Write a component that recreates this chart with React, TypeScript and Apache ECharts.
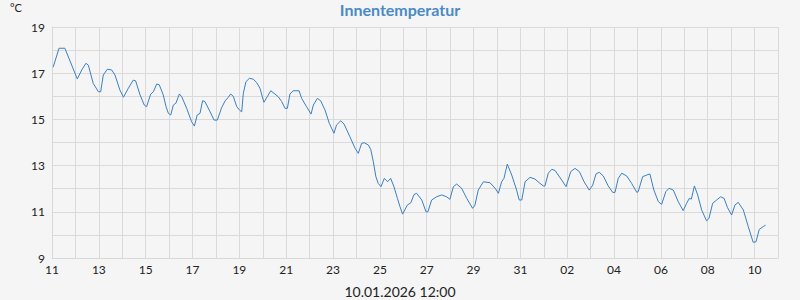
import React, { useEffect, useRef } from "react";
import * as echarts from "echarts";

const START_UTC = Date.UTC(2025, 11, 11, 0, 0);
const DAY_MS = 86400000;
const RANGE_DAYS = 31;

const Y_MIN = 9;
const Y_MAX = 19;

// time of each reading, in days after 11.12.2025 00:00
const DAY_OFFSETS = [
  0.05, 0.3, 0.55, 1.08, 1.27, 1.45, 1.55, 1.76, 1.98, 2.08, 2.19, 2.36, 2.55, 2.69, 2.9, 3.05,
  3.26, 3.47, 3.57, 3.76, 3.94, 4.04, 4.21, 4.33, 4.47, 4.58, 4.75, 4.87, 4.97, 5.07, 5.18, 5.29,
  5.44, 5.54, 5.75, 5.96, 6.08, 6.2, 6.32, 6.43, 6.53, 6.75, 6.92, 7.06, 7.24, 7.39, 7.53, 7.63,
  7.74, 7.89, 8.03, 8.1, 8.17, 8.28, 8.43, 8.6, 8.74, 8.88, 8.98, 9.05, 9.19, 9.34, 9.52, 9.66,
  9.81, 9.95, 10.05, 10.16, 10.3, 10.55, 10.66, 10.87, 11.06, 11.16, 11.33, 11.47, 11.66, 11.84,
  12.04, 12.15, 12.33, 12.47, 12.72, 12.94, 13.08, 13.22, 13.33, 13.51, 13.61, 13.72, 13.83,
  13.93, 14.05, 14.19, 14.33, 14.46, 14.6, 14.75, 14.86, 14.97, 15.17, 15.32, 15.46, 15.57,
  15.79, 15.97, 16.05, 16.21, 16.42, 16.64, 16.85, 16.99, 17.14, 17.28, 17.49, 17.71, 17.96,
  18.06, 18.2, 18.42, 18.7, 18.92, 19.06, 19.2, 19.3, 19.44, 19.63, 19.84, 19.95, 20.06, 20.2,
  20.41, 20.62, 20.8, 20.98, 21.05, 21.19, 21.34, 21.48, 21.76, 21.95, 22.15, 22.33, 22.52,
  22.72, 22.94, 23.09, 23.23, 23.37, 23.54, 23.75, 23.94, 24.04, 24.18, 24.33, 24.54, 24.75,
  24.97, 25.03, 25.22, 25.39, 25.53, 25.7, 25.89, 26.03, 26.21, 26.35, 26.53, 26.74, 26.95,
  27.1, 27.21, 27.3, 27.43, 27.57, 27.74, 27.95, 28.05, 28.21, 28.38, 28.55, 28.7, 28.84,
  29.02, 29.16, 29.3, 29.52, 29.73, 29.94, 30.06, 30.2, 30.37, 30.47,
];

// indoor temperature, °C
const TEMPS = [
  17.26, 18.08, 18.08, 16.75, 17.14, 17.43, 17.35, 16.56, 16.2, 16.2, 16.92, 17.17, 17.14, 16.92,
  16.27, 15.96, 16.35, 16.7, 16.67, 16.06, 15.62, 15.55, 16.09, 16.2, 16.53, 16.5, 16.06, 15.55,
  15.26, 15.19, 15.62, 15.7, 16.1, 15.98, 15.48, 14.9, 14.71, 15.19, 15.26, 15.81, 15.77, 15.33,
  14.97, 14.97, 15.5, 15.8, 15.96, 16.1, 16.0, 15.55, 15.38, 15.33, 16.13, 16.63, 16.78, 16.74,
  16.59, 16.35, 15.98, 15.74, 15.98, 16.24, 16.1, 15.98, 15.77, 15.48, 15.48, 16.1, 16.24,
  16.24, 15.91, 15.55, 15.23, 15.62, 15.91, 15.81, 15.4, 14.83, 14.4, 14.76, 14.94, 14.8, 14.25,
  13.75, 13.53, 13.96, 13.99, 13.89, 13.7, 13.17, 12.52, 12.23, 12.09, 12.45, 12.3, 12.45, 12.09,
  11.58, 11.22, 10.9, 11.29, 11.39, 11.75, 11.8, 11.51, 11.0, 11.0, 11.51, 11.65, 11.73, 11.65,
  11.54, 12.09, 12.2, 12.02, 11.58, 11.15, 11.29, 11.94, 12.3, 12.26, 12.02, 11.8, 12.3, 12.45,
  13.06, 12.59, 11.94, 11.51, 11.51, 12.3, 12.49, 12.42, 12.26, 12.12, 12.12, 12.67, 12.84,
  12.79, 12.38, 12.09, 12.74, 12.88, 12.74, 12.3, 11.94, 12.16, 12.64, 12.71, 12.55, 12.12,
  11.84, 11.84, 12.45, 12.67, 12.55, 12.23, 11.84, 11.87, 12.52, 12.59, 12.64, 11.94, 11.44,
  11.32, 11.87, 12.02, 11.94, 11.44, 11.05, 11.37, 11.58, 11.55, 12.12, 11.73, 11.08, 10.61,
  10.71, 11.37, 11.51, 11.65, 11.58, 11.19, 10.86, 11.29, 11.41, 11.08, 10.36, 9.68, 9.7, 10.24,
  10.36, 10.42,
];

const TITLE = "Innentemperatur";
const UNIT = "°C";
const FOOTER = "10.01.2026 12:00";

const FONT = "Lato, 'DejaVu Sans', sans-serif";

export default function App() {
  const ref = useRef<HTMLDivElement>(null);

  useEffect(() => {
    if (!ref.current) return;
    const chart = echarts.init(ref.current, null, { renderer: "svg" });
    const data = DAY_OFFSETS.map((d, i) => [START_UTC + d * DAY_MS, TEMPS[i]]);
    chart.setOption({
      animation: false,
      backgroundColor: "#f5f5f5",
      textStyle: { fontFamily: FONT },
      graphic: [
        {
          type: "text",
          style: {
            x: 400,
            y: 9,
            text: TITLE,
            align: "center",
            verticalAlign: "middle",
            fill: "#4a8ac4",
            font: `bold 16px ${FONT}`,
          },
        },
        {
          type: "text",
          style: {
            x: 400,
            y: 291,
            text: FOOTER,
            align: "center",
            verticalAlign: "middle",
            fill: "#222",
            font: `14px ${FONT}`,
          },
        },
        {
          type: "text",
          style: {
            x: 10,
            y: 7,
            text: UNIT,
            align: "left",
            verticalAlign: "middle",
            fill: "#222",
            font: `11px ${FONT}`,
          },
        },
      ],
      grid: { left: 52, right: 22, top: 27, bottom: 42, containLabel: false },
      xAxis: {
        type: "value",
        min: START_UTC,
        max: START_UTC + RANGE_DAYS * DAY_MS,
        interval: DAY_MS,
        axisLine: { show: true, lineStyle: { color: "#d8d8d8", width: 1 } },
        axisTick: { show: false },
        splitLine: { show: true, lineStyle: { color: "#dadada", width: 1 } },
        axisLabel: {
          color: "#222",
          fontSize: 12,
          fontFamily: FONT,
          margin: 5,
          showMaxLabel: false,
          formatter: (v: number) => {
            const off = Math.round((v - START_UTC) / DAY_MS);
            if (off % 2 !== 0) return "";
            const dt = new Date(v);
            return String(dt.getUTCDate()).padStart(2, "0");
          },
        },
      },
      yAxis: {
        type: "value",
        min: Y_MIN,
        max: Y_MAX,
        interval: 1,
        axisLine: { show: true, lineStyle: { color: "#d8d8d8", width: 1 } },
        axisTick: { show: false },
        splitLine: { show: true, lineStyle: { color: "#dadada", width: 1 } },
        axisLabel: {
          color: "#222",
          fontSize: 12,
          fontFamily: FONT,
          margin: 7,
          formatter: (v: number) => (Math.round(v) % 2 === 1 ? String(v) : ""),
        },
      },
      series: [
        {
          type: "line",
          data,
          showSymbol: false,
          symbol: "none",
          smooth: false,
          lineStyle: { color: "#3a7fc1", width: 1 },
          itemStyle: { color: "#3a7fc1" },
        },
      ],
    });
    return () => chart.dispose();
  }, []);

  return (
    <div
      ref={ref}
      style={{ position: "absolute", left: 0, top: 0, width: 800, height: 300 }}
    />
  );
}
